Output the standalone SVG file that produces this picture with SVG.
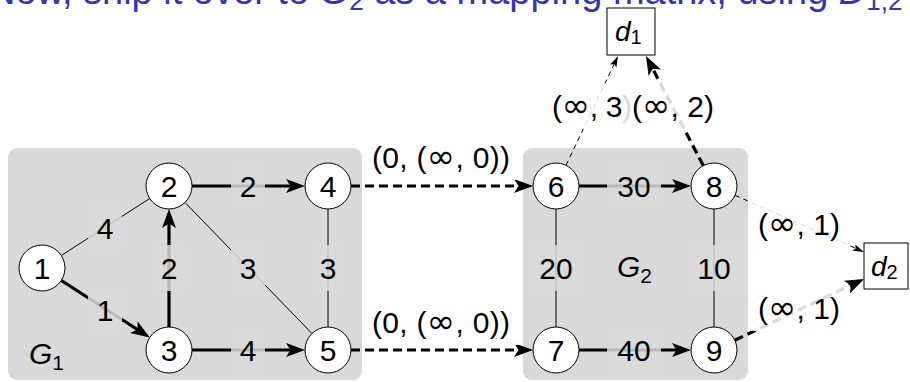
<svg xmlns="http://www.w3.org/2000/svg" width="910" height="382" viewBox="0 0 910 382">
<style>
text{font-family:"Liberation Sans",Arial,sans-serif;fill:#000}
.title{font-size:38px;fill:#3434b4}
.title tspan{fill:#3434b4}
.box{fill:#d9d9d9}
.node circle{fill:#fff;stroke:#000;stroke-width:1}
.node text{font-size:30px;text-anchor:middle}
.thin{stroke:#000;stroke-width:1;fill:none}
.thick{stroke:#000;stroke-width:3.2;fill:none}
.dthick{stroke:#000;stroke-width:3.2;fill:none;stroke-dasharray:9 5}
.dthin{stroke:#000;stroke-width:1;fill:none;stroke-dasharray:5 4}
.lbl text{font-size:30px;text-anchor:middle}
.inf{font-family:"DejaVu Sans",sans-serif;font-size:34px}
.bgin{fill:#d9d9d9;opacity:0.85}
.bgout{fill:#fff;opacity:0.85}
.term rect{fill:#fff;stroke:#000;stroke-width:1}
.term text{font-size:28px}
.it{font-style:italic}
</style>
<defs>
<marker id="ah" viewBox="-9 -8 21 16" refX="0" refY="0" markerWidth="21" markerHeight="16" markerUnits="userSpaceOnUse" orient="auto">
<path d="M11,0 L-8,-7 L-3.5,0 L-8,7 Z" fill="#000"/>
</marker>
<marker id="as" viewBox="-6 -5 13 10" refX="0" refY="0" markerWidth="13" markerHeight="10" markerUnits="userSpaceOnUse" orient="auto">
<path d="M6,0 L-5,-3.5 L-3,0 L-5,3.5 Z" fill="#000"/>
</marker>
</defs>

<text class="title" x="-12" y="4">Now, ship it over to <tspan class="it">G</tspan><tspan font-size="26" dy="6">2</tspan><tspan dy="-6"> as a mapping matrix, using </tspan><tspan class="it">D</tspan><tspan font-size="26" dy="6">1,2</tspan></text>

<g id="G1">
<rect class="box" x="8" y="148" width="354" height="232" rx="9"/>
<text x="29" y="364" font-size="30" class="it">G<tspan font-size="21" font-style="normal" dy="6">1</tspan></text>
</g>
<g id="G2">
<rect class="box" x="523" y="148" width="225" height="232" rx="9"/>
<text x="617" y="277" font-size="30" class="it">G<tspan font-size="21" font-style="normal" dy="6">2</tspan></text>
</g>

<g id="connectors">
<line class="thin" x1="61.3" y1="255.5" x2="149.7" y2="198.5"/>
<line class="thick" x1="61.3" y1="280.5" x2="140.5" y2="331.5" marker-end="url(#ah)"/>
<line class="thick" x1="169" y1="327" x2="169" y2="220" marker-end="url(#ah)"/>
<line class="thick" x1="192" y1="186" x2="294" y2="186" marker-end="url(#ah)"/>
<line class="thick" x1="192" y1="350" x2="294" y2="350" marker-end="url(#ah)"/>
<line class="thin" x1="185" y1="202.5" x2="312" y2="333.5"/>
<line class="thin" x1="328" y1="209" x2="328" y2="327"/>
<line class="dthick" x1="351" y1="186" x2="522" y2="186" marker-end="url(#ah)"/>
<line class="dthick" x1="351" y1="350" x2="522" y2="350" marker-end="url(#ah)"/>
<line class="thick" x1="579" y1="186" x2="680" y2="186" marker-end="url(#ah)"/>
<line class="thick" x1="579" y1="350" x2="680" y2="350" marker-end="url(#ah)"/>
<line class="thin" x1="556" y1="209" x2="556" y2="327"/>
<line class="thin" x1="714" y1="209" x2="714" y2="327"/>
<line class="dthin" x1="566" y1="165.3" x2="615.4" y2="61.4" marker-end="url(#as)"/>
<line class="dthick" x1="703.3" y1="165.6" x2="651.1" y2="65.7" marker-end="url(#ah)"/>
<line class="dthin" x1="735" y1="195.3" x2="858.5" y2="249.6" marker-end="url(#as)"/>
<line class="dthick" x1="734.8" y1="340.2" x2="854.1" y2="283.7" marker-end="url(#ah)"/>
</g>

<g id="labels" class="lbl">
<rect class="bgin" x="88" y="205" width="34" height="46"/><text x="105" y="239">4</text>
<rect class="bgin" x="88" y="287" width="34" height="46"/><text x="105" y="321">1</text>
<rect class="bgin" x="152" y="245" width="34" height="46"/><text x="169" y="279">2</text>
<rect class="bgin" x="231" y="163" width="34" height="46"/><text x="248" y="197">2</text>
<rect class="bgin" x="231" y="245" width="34" height="46"/><text x="248" y="279">3</text>
<rect class="bgin" x="311" y="245" width="34" height="46"/><text x="328" y="279">3</text>
<rect class="bgin" x="231" y="327" width="34" height="46"/><text x="248" y="361">4</text>
<rect class="bgin" x="607" y="163" width="54" height="46"/><text x="634" y="197">30</text>
<rect class="bgin" x="607" y="327" width="54" height="46"/><text x="634" y="361">40</text>
<rect class="bgin" x="529" y="245" width="54" height="46"/><text x="556" y="279">20</text>
<rect class="bgin" x="687" y="245" width="54" height="46"/><text x="714" y="279">10</text>
<rect class="bgout" x="362" y="134" width="158" height="46"/><text x="441" y="168" textLength="138" lengthAdjust="spacing">(0, (<tspan class="inf">∞</tspan>, 0))</text>
<rect class="bgout" x="362" y="299" width="158" height="46"/><text x="441" y="333" textLength="138" lengthAdjust="spacing">(0, (<tspan class="inf">∞</tspan>, 0))</text>
<rect class="bgout" x="542" y="83" width="100" height="46"/><text x="592" y="117" textLength="80" lengthAdjust="spacing">(<tspan class="inf">∞</tspan>, 3)</text>
<rect class="bgout" x="622" y="83" width="102" height="46"/><text x="673" y="117" textLength="82" lengthAdjust="spacing">(<tspan class="inf">∞</tspan>, 2)</text>
<rect class="bgout" x="748" y="201" width="102" height="46"/><text x="799" y="235" textLength="82" lengthAdjust="spacing">(<tspan class="inf">∞</tspan>, 1)</text>
<rect class="bgout" x="748" y="285" width="102" height="46"/><text x="799" y="319" textLength="82" lengthAdjust="spacing">(<tspan class="inf">∞</tspan>, 1)</text>
</g>

<g id="n1" class="node"><circle cx="42" cy="268" r="23"/><text x="42" y="279">1</text></g>
<g id="n2" class="node"><circle cx="169" cy="186" r="23"/><text x="169" y="197">2</text></g>
<g id="n3" class="node"><circle cx="169" cy="350" r="23"/><text x="169" y="361">3</text></g>
<g id="n4" class="node"><circle cx="328" cy="186" r="23"/><text x="328" y="197">4</text></g>
<g id="n5" class="node"><circle cx="328" cy="350" r="23"/><text x="328" y="361">5</text></g>
<g id="n6" class="node"><circle cx="556" cy="186" r="23"/><text x="556" y="197">6</text></g>
<g id="n7" class="node"><circle cx="556" cy="350" r="23"/><text x="556" y="361">7</text></g>
<g id="n8" class="node"><circle cx="714" cy="186" r="23"/><text x="714" y="197">8</text></g>
<g id="n9" class="node"><circle cx="714" cy="350" r="23"/><text x="714" y="361">9</text></g>

<g id="d1" class="term"><rect x="607" y="8" width="48" height="47"/><text x="615" y="41" class="it">d<tspan font-size="20" font-style="normal" dy="3">1</tspan></text></g>
<g id="d2" class="term"><rect x="864" y="243" width="44" height="46"/><text x="871" y="276" class="it">d<tspan font-size="20" font-style="normal" dy="3">2</tspan></text></g>
</svg>
